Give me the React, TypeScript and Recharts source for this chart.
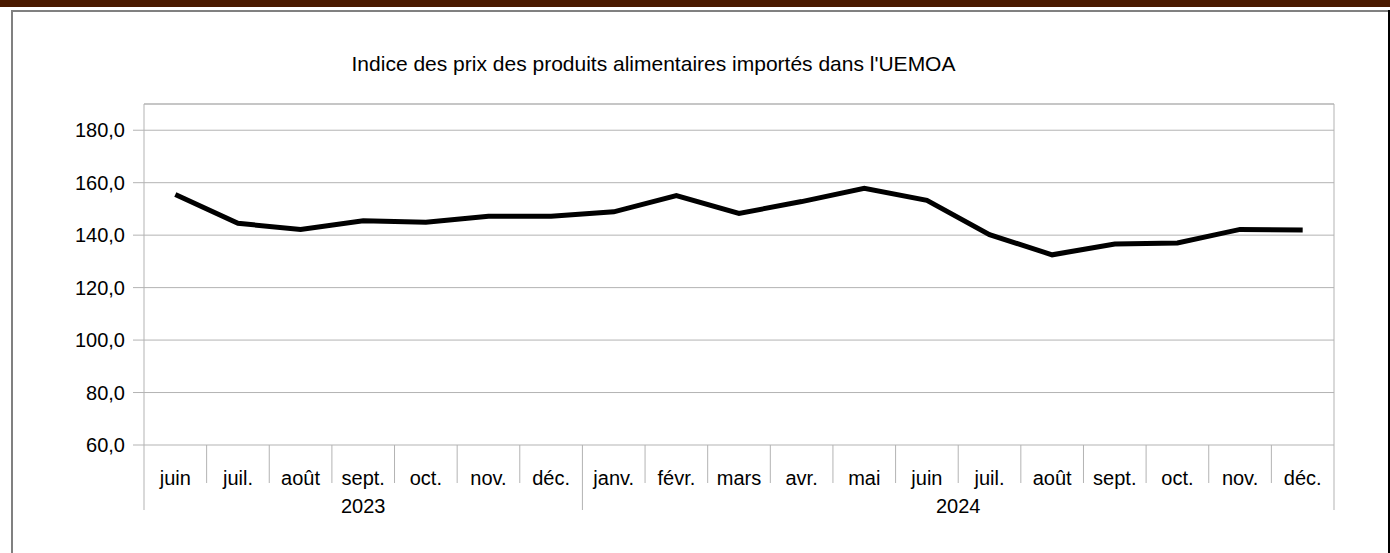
import React from 'react';
import { LineChart, Line, XAxis, YAxis, CartesianGrid, ReferenceLine } from 'recharts';

const months = ['juin', 'juil.', 'août', 'sept.', 'oct.', 'nov.', 'déc.', 'janv.', 'févr.', 'mars', 'avr.', 'mai', 'juin', 'juil.', 'août', 'sept.', 'oct.', 'nov.', 'déc.'];
const values = [155.5, 144.5, 142.2, 145.5, 144.9, 147.2, 147.2, 148.9, 155.1, 148.3, 152.8, 157.9, 153.3, 140.2, 132.5, 136.6, 137.0, 142.2, 142.0];
const years = [
  { label: '2023', start: 0, end: 6 },
  { label: '2024', start: 7, end: 18 },
];
const yTicks = [60, 80, 100, 120, 140, 160, 180];
const yMin = 60;
const yMax = 190;
const title = "Indice des prix des produits alimentaires importés dans l'UEMOA";

const data = months.map((m, i) => ({ idx: i, month: m, value: values[i] }));

const xMin = -0.5;
const xMax = months.length - 0.5;
const xTickSet = new Set<number>();
for (let i = 0; i < months.length; i++) {
  xTickSet.add(i);
  xTickSet.add(i - 0.5);
}
xTickSet.add(xMax);
years.forEach((y) => xTickSet.add((y.start + y.end) / 2));
const xTicks = Array.from(xTickSet).sort((a, b) => a - b);

const FONT = '"Liberation Sans", Arial, sans-serif';
const GRID = '#b3b3b3';

const longSeps = new Set<number>([...years.map((y) => y.start - 0.5), xMax]);

const XTick = (props: any) => {
  const { x, y, payload } = props;
  const v = payload.value as number;
  const out: React.ReactNode[] = [];
  if (Number.isInteger(v) && v >= 0 && v < months.length) {
    out.push(
      <text key="m" x={x} y={y + 40} textAnchor="middle" fill="#000" fontSize={20} fontFamily={FONT}>
        {months[v]}
      </text>
    );
  }
  if (!Number.isInteger(v)) {
    const isLong = longSeps.has(v);
    out.push(<line key="s" x1={x} x2={x} y1={y} y2={y + (isLong ? 65 : 38)} stroke={GRID} strokeWidth={1} />);
  }
  years.forEach((yr) => {
    if ((yr.start + yr.end) / 2 === v) {
      out.push(
        <text key={'y' + yr.label} x={x} y={y + 68} textAnchor="middle" fill="#000" fontSize={20} fontFamily={FONT}>
          {yr.label}
        </text>
      );
    }
  });
  return <g>{out}</g>;
};

export default function App() {
  return (
    <div
      style={{
        position: 'absolute',
        left: 0,
        top: 0,
        width: 1390,
        height: 553,
        background: '#fff',
        overflow: 'hidden',
        fontFamily: FONT,
      }}
    >
      <div style={{ position: 'absolute', left: 0, top: 0, width: 1390, height: 7, background: '#4a1900' }} />
      <div style={{ position: 'absolute', left: 11, top: 10, width: 1379, height: 2, background: '#808080' }} />
      <div style={{ position: 'absolute', left: 11, top: 10, width: 2, height: 543, background: '#808080' }} />
      <div style={{ position: 'absolute', left: 1388, top: 10, width: 2, height: 543, background: '#000' }} />
      <div style={{ position: 'absolute', left: 0, top: 0 }}>
        <LineChart width={1390} height={553} data={data} margin={{ top: 104, right: 56, bottom: 38, left: 84 }}>
          <CartesianGrid vertical={false} stroke={GRID} strokeDasharray="" />
          <ReferenceLine y={yMax} stroke={GRID} />
          <ReferenceLine x={xMax} stroke={GRID} />
          <XAxis
            dataKey="idx"
            type="number"
            domain={[xMin, xMax]}
            ticks={xTicks}
            interval={0}
            tick={<XTick />}
            tickLine={false}
            axisLine={false}
            tickSize={0}
            tickMargin={0}
            height={70}
            allowDecimals
          />
          <YAxis
            type="number"
            domain={[yMin, yMax]}
            ticks={yTicks}
            interval={0}
            width={60}
            tickSize={11}
            tickMargin={8}
            axisLine={{ stroke: GRID }}
            tickLine={{ stroke: GRID }}
            tick={{ fill: '#000', fontSize: 20, fontFamily: FONT }}
            tickFormatter={(v: number) => v.toFixed(1).replace('.', ',')}
          />
          <Line
            type="linear"
            dataKey="value"
            stroke="#000"
            strokeWidth={5}
            dot={false}
            activeDot={false}
            strokeLinejoin="miter"
            strokeLinecap="butt"
            isAnimationActive={false}
          />
        </LineChart>
      </div>
      <svg width={1390} height={553} style={{ position: 'absolute', left: 0, top: 0, pointerEvents: 'none' }}>
        <text x={653.5} y={71} textAnchor="middle" fontSize={21} fill="#000" fontFamily={FONT}>
          {title}
        </text>
      </svg>
    </div>
  );
}
